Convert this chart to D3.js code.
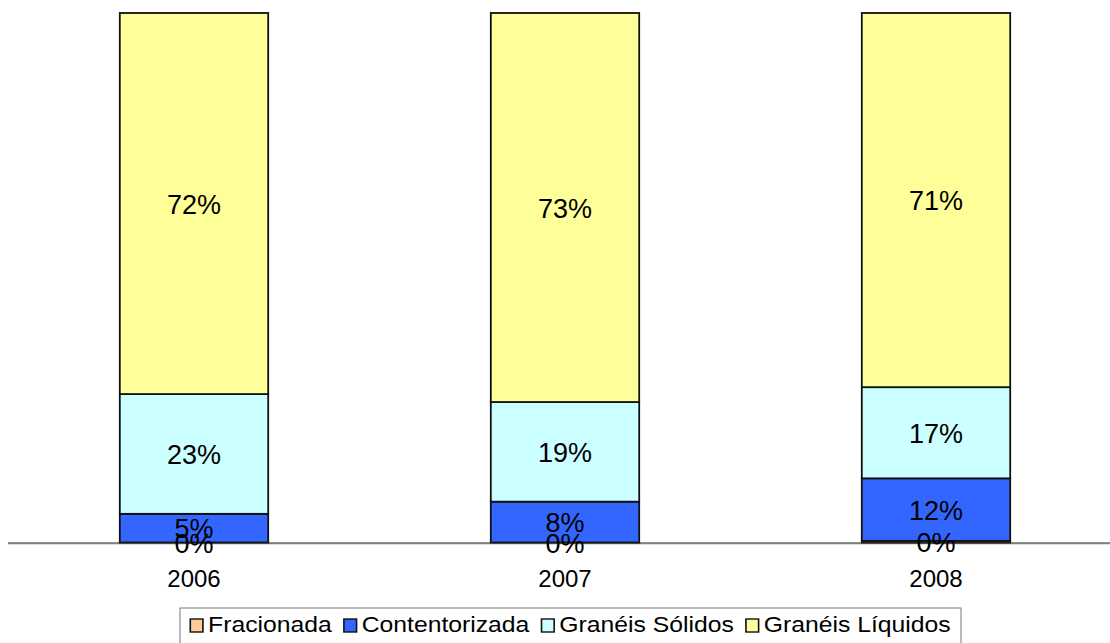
<!DOCTYPE html>
<html>
<head>
<meta charset="utf-8">
<script src="https://cdn.jsdelivr.net/npm/d3@7"></script>
<style>
  body { margin: 0; background: #fff; }
  text { font-family: "Liberation Sans", Arial, sans-serif; fill: #000; }
</style>
</head>
<body>
<div id="chart"></div>
<script>
// data (percent of each year)
var years = ["2006", "2007", "2008"];
var seriesNames = ["Fracionada", "Contentorizada", "Granéis Sólidos", "Granéis Líquidos"];
var fracionada = [0.1, 0.1, 0.4];
var contentorizada = [5.4, 7.7, 11.8];
var solidos = [22.6, 18.8, 17.2];
var liquidos = [71.9, 73.4, 70.6];
var colors = ["#FFCC99", "#3366FF", "#CCFFFF", "#FFFF99"];

var width = 1110;
var height = 643;
var baseY = 543;
var topY = 13;

var svg = d3.select("#chart")
    .append("svg")
    .attr("width", width)
    .attr("height", height);

var table = years.map(function (y, i) {
    return { year: y, s0: fracionada[i], s1: contentorizada[i], s2: solidos[i], s3: liquidos[i] };
});
var stack = d3.stack().keys(["s0", "s1", "s2", "s3"]);
var stacked = stack(table);

var xScale = d3.scaleBand()
    .domain(years)
    .range([8.5, 1121.5])
    .paddingInner(0.6)
    .paddingOuter(0.3);

var yScale = d3.scaleLinear()
    .domain([0, 100])
    .range([baseY, topY]);

// bars
var layers = svg.selectAll("g.layer")
    .data(stacked)
    .enter()
    .append("g")
    .attr("class", "layer")
    .attr("fill", function (d, i) { return colors[i]; });

layers.selectAll("rect")
    .data(function (d) { return d; })
    .enter()
    .append("rect")
    .attr("x", function (d) { return xScale(d.data.year); })
    .attr("y", function (d) { return yScale(d[1]); })
    .attr("width", xScale.bandwidth())
    .attr("height", function (d) { return yScale(d[0]) - yScale(d[1]); })
    .attr("stroke", "#111")
    .attr("stroke-width", 1.8);

// axis line
svg.append("line")
    .attr("x1", 8).attr("x2", width)
    .attr("y1", baseY + 1).attr("y2", baseY + 1)
    .attr("stroke", "#bbb").attr("stroke-width", 1);
svg.append("line")
    .attr("x1", 8).attr("x2", width)
    .attr("y1", baseY).attr("y2", baseY)
    .attr("stroke", "#222").attr("stroke-width", 1.2);

// value labels, drawn above all bars
var labelLayers = svg.selectAll("g.labels")
    .data(stacked)
    .enter()
    .append("g")
    .attr("class", "labels");

labelLayers.selectAll("text")
    .data(function (d) { return d; })
    .enter()
    .append("text")
    .attr("x", function (d) { return xScale(d.data.year) + xScale.bandwidth() / 2; })
    .attr("y", function (d) { return (yScale(d[0]) + yScale(d[1])) / 2 + 10; })
    .attr("text-anchor", "middle")
    .attr("font-size", 27)
    .text(function (d) { return Math.round(d[1] - d[0]) + "%"; });

// year labels
svg.selectAll("text.year")
    .data(years)
    .enter()
    .append("text")
    .attr("class", "year")
    .attr("x", function (d) { return xScale(d) + xScale.bandwidth() / 2; })
    .attr("y", 587)
    .attr("text-anchor", "middle")
    .attr("font-size", 24)
    .text(function (d) { return d; });

// legend box
var boxLeft = 180;
var boxW = 781;
svg.append("rect")
    .attr("x", boxLeft).attr("y", 608)
    .attr("width", boxW).attr("height", 50)
    .attr("fill", "#fff")
    .attr("stroke", "#777")
    .attr("stroke-width", 1);

// legend (text is drawn a bit wide, as in the original)
var stretch = 1.15;
var legend = svg.append("g");
var lx = 0;
seriesNames.forEach(function (name, i) {
    var g = legend.append("g").attr("transform", "translate(" + lx + ",0)");
    g.append("rect")
        .attr("x", 0).attr("y", -13)
        .attr("width", 11).attr("height", 13)
        .attr("fill", colors[i])
        .attr("stroke", "#111").attr("stroke-width", 1.4);
    var t = g.append("text")
        .attr("x", 15.5).attr("y", 0)
        .attr("font-size", 21.5)
        .text(name);
    lx += 15.5 + t.node().getComputedTextLength() + 10.5;
});
var legendW = (lx - 10.5) * stretch;
var innerLeft = boxLeft + (boxW - legendW) / 2;
legend.attr("transform", "translate(" + innerLeft + ",632) scale(" + stretch + ",1)");
</script>
</body>
</html>
